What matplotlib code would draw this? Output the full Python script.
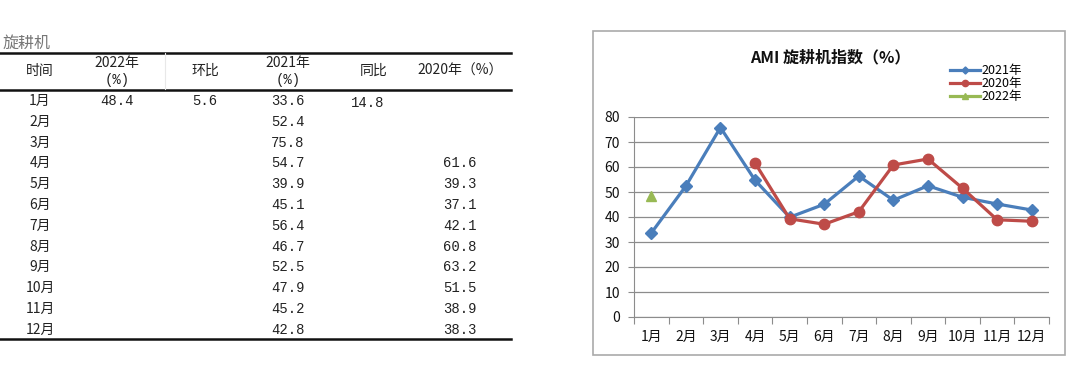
import matplotlib
matplotlib.use("Agg")
import matplotlib.pyplot as plt
from matplotlib.patches import Rectangle

plt.rcParams['font.family'] = ['Noto Sans CJK SC', 'DejaVu Sans']

months = ["1月", "2月", "3月", "4月", "5月", "6月", "7月", "8月", "9月", "10月", "11月", "12月"]
v2021 = [33.6, 52.4, 75.8, 54.7, 39.9, 45.1, 56.4, 46.7, 52.5, 47.9, 45.2, 42.8]
v2020 = [None, None, None, 61.6, 39.3, 37.1, 42.1, 60.8, 63.2, 51.5, 38.9, 38.3]
v2022 = [48.4]
mom = ["5.6"]          # 环比
yoy = ["14.8"]         # 同比
table_title = "旋耕机"
chart_title = "AMI 旋耕机指数（%）"
y_ticks = [0, 10, 20, 30, 40, 50, 60, 70, 80]

W, H = 1080, 369
fig = plt.figure(figsize=(W / 100, H / 100), dpi=100)
fig.patch.set_facecolor("white")

# overlay axes in pixel coords
ov = fig.add_axes([0, 0, 1, 1])
ov.set_xlim(0, W)
ov.set_ylim(H, 0)
ov.axis("off")

mono = ['Liberation Mono', 'Noto Sans CJK SC']
cjk = ['Noto Sans CJK SC', 'DejaVu Sans']

# ---------- table ----------
ov.text(3, 43, table_title, fontsize=11.5, color="#777777", va="center", ha="left", family=cjk)
ov.plot([0, 511], [52.5, 52.5], color="#111111", lw=1.8)
ov.plot([0, 511], [90, 90], color="#111111", lw=1.8)
ov.plot([0, 511], [339, 339], color="#111111", lw=1.8)
ov.plot([165, 165], [53, 89], color="#e8e8e8", lw=0.8)

col_x = {"time": 40, "y22": 117, "mom": 205, "y21": 288, "yoy": 374, "y20": 460}
hdr_c = "#222222"
ov.text(col_x["time"], 71, "时间", fontsize=10, ha="center", va="center", color=hdr_c, family=cjk)
ov.text(col_x["y22"], 63, "2022年", fontsize=10, ha="center", va="center", color=hdr_c, family=cjk)
ov.text(col_x["y22"], 80, "(%)", fontsize=10, ha="center", va="center", color=hdr_c, family=mono)
ov.text(col_x["mom"], 71, "环比", fontsize=10, ha="center", va="center", color=hdr_c, family=cjk)
ov.text(col_x["y21"], 63, "2021年", fontsize=10, ha="center", va="center", color=hdr_c, family=cjk)
ov.text(col_x["y21"], 80, "(%)", fontsize=10, ha="center", va="center", color=hdr_c, family=mono)
ov.text(col_x["yoy"], 71, "同比", fontsize=10, ha="center", va="center", color=hdr_c, family=cjk)
ov.text(col_x["y20"], 71, "2020年（%）", fontsize=10, ha="center", va="center", color=hdr_c, family=cjk)

row0, dy = 101, 20.8
for i, m in enumerate(months):
    y = row0 + i * dy
    ov.text(col_x["time"], y, m, fontsize=10, ha="center", va="center", color=hdr_c, family=cjk)
    ov.text(col_x["y21"], y, f"{v2021[i]:.1f}", fontsize=10, ha="center", va="center", color=hdr_c, family=mono)
    if v2020[i] is not None:
        ov.text(col_x["y20"], y, f"{v2020[i]:.1f}", fontsize=10, ha="center", va="center", color=hdr_c, family=mono)
    if i < len(v2022):
        ov.text(col_x["y22"], y, f"{v2022[i]:.1f}", fontsize=10, ha="center", va="center", color=hdr_c, family=mono)
    if i < len(mom):
        ov.text(col_x["mom"], y, mom[i], fontsize=10, ha="center", va="center", color=hdr_c, family=mono)
    if i < len(yoy):
        ov.text(col_x["yoy"] - 6, y + 2, yoy[i], fontsize=10, ha="center", va="center", color=hdr_c, family=mono)

# ---------- chart box ----------
ov.add_patch(Rectangle((593, 31), 1065 - 593, 355 - 31, fill=False, edgecolor="#aaaaaa", lw=1.2))
ov.text(830, 57, chart_title, fontsize=11.5, fontweight="bold", ha="center", va="center", color="#111111", family=cjk)

# ---------- chart axes ----------
x0, x1 = 634, 1049
ytop, ybot = 117, 317
ax = fig.add_axes([x0 / W, 1 - ybot / H, (x1 - x0) / W, (ybot - ytop) / H])
ax.set_facecolor("none")
xs = list(range(len(months)))

c21, c20, c22 = "#4A7EBB", "#BE4B48", "#98B954"
ax.plot(xs, v2021, color=c21, lw=2.3, marker="D", ms=6, label="2021年", zorder=3)
x20 = [x for x, v in zip(xs, v2020) if v is not None]
y20 = [v for v in v2020 if v is not None]
ax.plot(x20, y20, color=c20, lw=2.3, marker="o", ms=7.5, label="2020年", zorder=4)
ax.plot(xs[:len(v2022)], v2022, color=c22, lw=2.3, marker="^", ms=7, label="2022年", zorder=5)

ax.set_xlim(-0.5, len(months) - 0.5)
ax.set_ylim(0, 80)
ax.set_yticks(y_ticks)
ax.yaxis.grid(True, color="#8c8c8c", lw=0.9)
ax.set_axisbelow(True)
for s in ["top", "right"]:
    ax.spines[s].set_visible(False)
ax.spines["left"].set_color("#8c8c8c")
ax.spines["bottom"].set_color("#8c8c8c")
ax.set_xticks([x - 0.5 for x in range(len(months) + 1)])
ax.set_xticklabels([])
ax.set_xticks(xs, minor=True)
ax.set_xticklabels(months, minor=True)
ax.tick_params(axis="x", which="major", length=5, color="#8c8c8c", direction="out")
ax.tick_params(axis="x", which="minor", length=0, pad=9, labelsize=10, labelcolor="#111111")
ax.tick_params(axis="y", length=4, color="#8c8c8c", labelsize=10, labelcolor="#111111", pad=6)

leg = ax.legend(loc="upper left", bbox_to_anchor=((944 - x0) / (x1 - x0), 1 + (117 - 58) / 200),
                frameon=False, fontsize=9, handlelength=2.4, handletextpad=0.1,
                labelspacing=0.0, borderpad=0, markerscale=0.6)

fig.savefig("out.png", dpi=100, facecolor="white")
